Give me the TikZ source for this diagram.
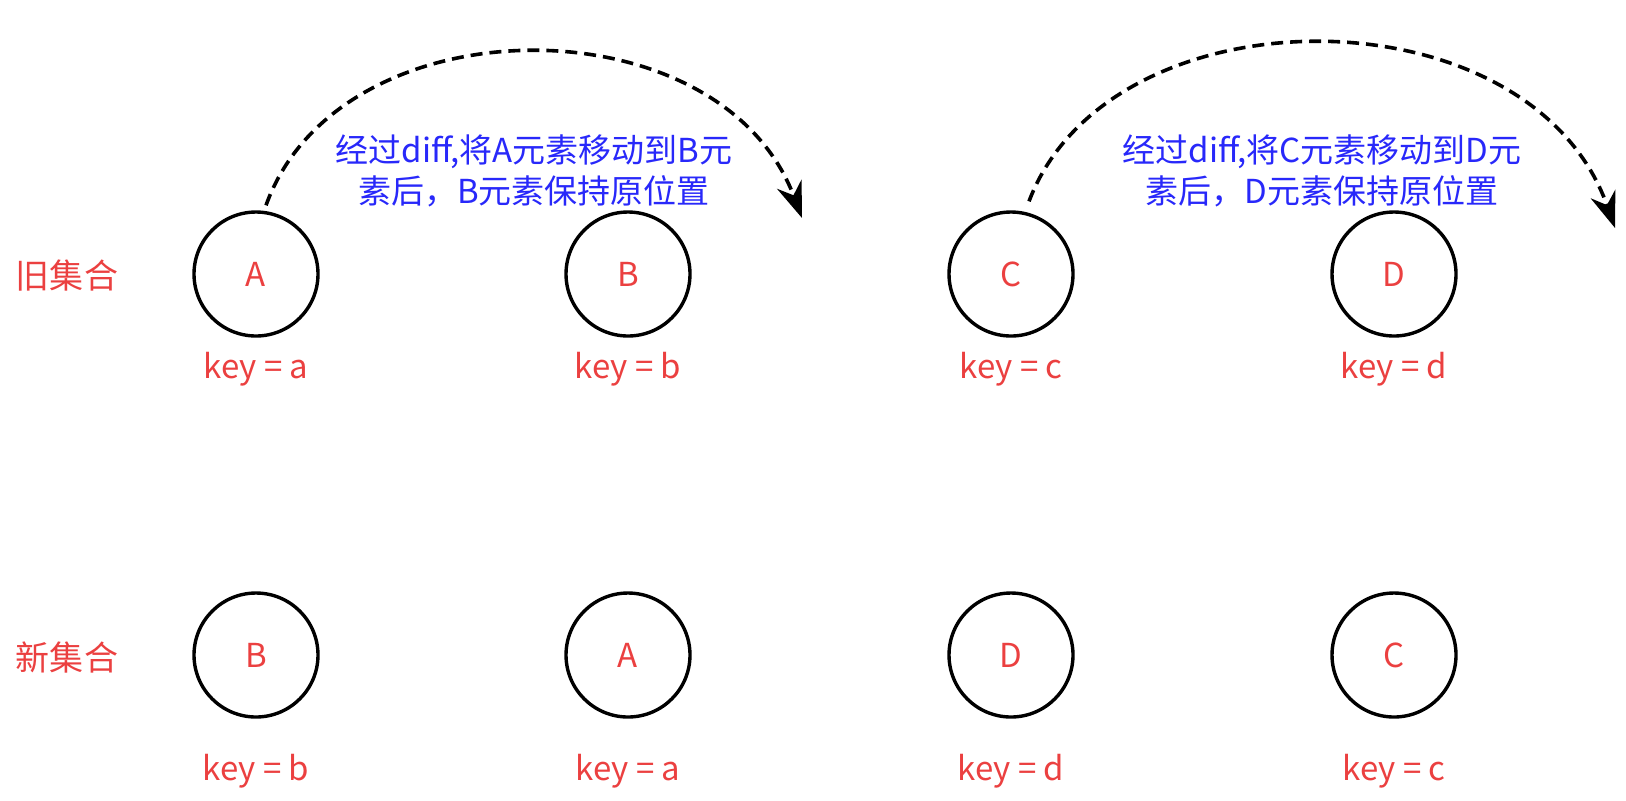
\documentclass[tikz,border=0pt]{standalone}
\usepackage{fontspec}
\setmainfont{Noto Sans CJK SC}
\usetikzlibrary{arrows.meta}
\definecolor{keyred}{RGB}{235,64,64}
\definecolor{noteblue}{RGB}{40,40,250}
\tikzset{
    elem/.style={circle,draw=black,line width=1.7pt,minimum size=62pt,inner sep=0pt,
                 text=keyred,font=\fontsize{16.5}{19}\selectfont},
    keylabel/.style={text=keyred,font=\fontsize{16.5}{19}\selectfont},
    setlabel/.style={text=keyred,font=\fontsize{17}{20}\selectfont},
    note/.style={text=noteblue,align=center,font=\fontsize{16.5}{20.5}\selectfont},
    move/.style={line width=1.8pt,dash pattern=on 6pt off 3.5pt,-{Stealth[length=18pt,width=13pt]}}
}
\begin{document}
\begin{tikzpicture}[x=0.5pt,y=-0.5pt]
                \useasboundingbox (0,0) rectangle (1626,800);
                % old set
                \node[setlabel] (old) at (67,276) {旧集合};
                \node[elem] (oa) at (256,274) {A};
                \node[elem] (ob) at (628,274) {B};
                \node[elem] (oc) at (1011,274) {C};
                \node[elem] (od) at (1394,274) {D};
                \node[keylabel] (ka) at (256,369) {key = a};
                \node[keylabel] (kb) at (628,369) {key = b};
                \node[keylabel] (kc) at (1011,369) {key = c};
                \node[keylabel] (kd) at (1394,369) {key = d};
                % new set
                \node[setlabel] (new) at (67,657) {新集合};
                \node[elem] (nb) at (256,655) {B};
                \node[elem] (na) at (628,655) {A};
                \node[elem] (nd) at (1011,655) {D};
                \node[elem] (nc) at (1394,655) {C};
                \node[keylabel] (kb2) at (256,771) {key = b};
                \node[keylabel] (ka2) at (628,771) {key = a};
                \node[keylabel] (kd2) at (1011,771) {key = d};
                \node[keylabel] (kc2) at (1394,771) {key = c};
                % moves
                \node[note] (noteab) at (534,171) {经过diff,将A元素移动到B元\\素后，B元素保持原位置};
                \node[note] (notecd) at (1322,171) {经过diff,将C元素移动到D元\\素后，D元素保持原位置};
                \coordinate (endab) at (802,218);
                \coordinate (endcd) at (1615,228);
                \draw[move]
                    (oa.north) ++(10,-5) .. controls (340,0) and (720,0) .. (endab);
                \draw[move]
                    (oc.north) ++(18,-9) .. controls (1110,-13) and (1530,-13) .. (endcd);
\end{tikzpicture}
\end{document}
